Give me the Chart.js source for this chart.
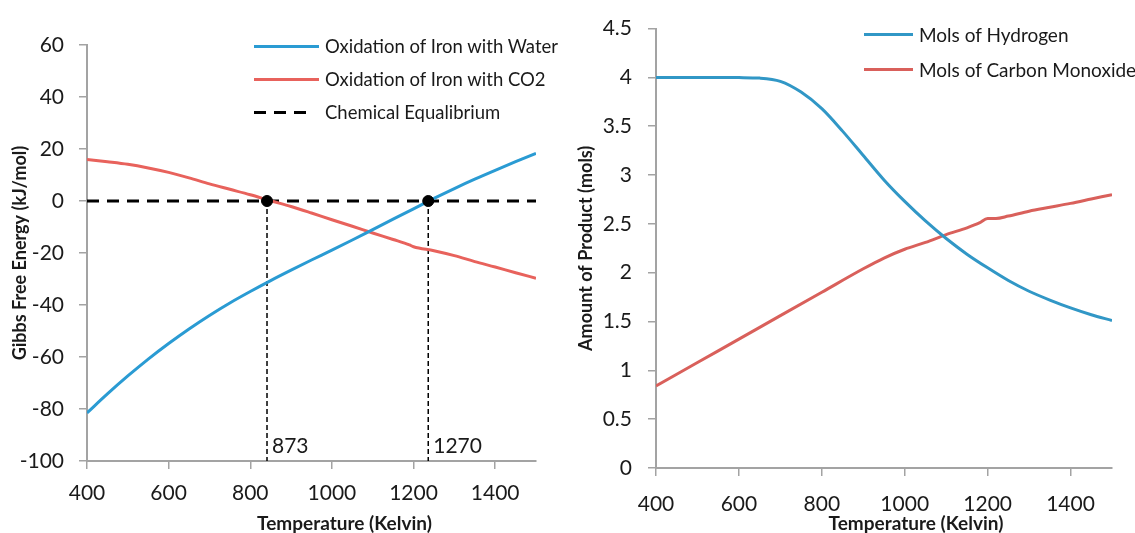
<!DOCTYPE html>
<html>
<head>
<meta charset="utf-8">
<script src="https://cdn.jsdelivr.net/npm/chart.js@4.4.1/dist/chart.umd.min.js"></script>
<style>
  html, body { margin: 0; padding: 0; background: #fff; }
  body { width: 1135px; height: 533px; position: relative; overflow: hidden; font-family: Lato, sans-serif; }
  .panel { position: absolute; top: 0; height: 533px; }
  #leftPanel { left: 0; width: 560px; }
  #rightPanel { left: 560px; width: 575px; }
  .legend { position: absolute; color: #1a1a1a; white-space: nowrap; }
  .legend .row { position: absolute; left: 0; height: 24px; display: flex; align-items: center; }
  .legend .swatch { height: 3px; flex: none; }
</style>
</head>
<body>
<div class="panel" id="leftPanel"><canvas id="gibbs" width="560" height="533"></canvas></div>
<div class="panel" id="rightPanel"><canvas id="mols" width="575" height="533"></canvas></div>
<div class="legend" id="legendLeft" style="left:254px; top:34px; font-size:18.5px;"></div>
<div class="legend" id="legendRight" style="left:864px; top:22px; font-size:19px;"></div>
<script>
// ---- Left chart: Gibbs free energy vs temperature
const waterTemps = [400, 450, 500, 550, 600, 650, 700, 750, 800, 850, 900, 950, 1000,
                    1050, 1100, 1150, 1200, 1250, 1300, 1350, 1400, 1450, 1500];
const gibbsWater = [-81.5, -74.2, -67.3, -60.8, -54.8, -49.2, -44.0, -39.2, -34.8, -30.6, -26.6, -22.7, -18.9,
                    -15.0, -11.0, -7.0, -3.0, 1.0, 4.8, 8.4, 11.8, 15.1, 18.3];
const co2Temps   = [400, 450, 500, 550, 600, 650, 700, 750, 800, 850, 900, 950, 1000,
                    1050, 1100, 1150, 1190, 1200, 1250, 1300, 1350, 1400, 1450, 1500];
const gibbsCO2   = [16.0, 15.1, 14.1, 12.7, 11.0, 8.9, 6.6, 4.5, 2.4, 0.1, -2.1, -4.6, -7.2,
                    -9.7, -12.3, -14.8, -16.9, -17.6, -19.1, -21.0, -23.3, -25.4, -27.6, -29.7];
const eqTemps  = [841, 1236];
const eqLabels = ["873", "1270"];
const gibbsTicks = [-100, -80, -60, -40, -20, 0, 20, 40, 60];

// ---- Right chart: amount of product
const h2Temps = [400, 500, 600, 650, 700, 750, 800, 850, 900, 950, 1000, 1050, 1100,
                 1150, 1200, 1250, 1300, 1350, 1400, 1450, 1500];
const molsH2  = [4.0, 4.0, 3.998, 3.993, 3.96, 3.85, 3.68, 3.45, 3.2, 2.95, 2.73, 2.53, 2.35,
                 2.19, 2.05, 1.92, 1.81, 1.72, 1.64, 1.57, 1.51];
const coTemps = [400, 500, 600, 700, 800, 900, 950, 1000, 1050, 1100, 1150, 1180, 1200, 1220,
                 1250, 1300, 1350, 1400, 1450, 1500];
const molsCO  = [0.84, 1.08, 1.32, 1.56, 1.8, 2.04, 2.15, 2.24, 2.31, 2.39, 2.46, 2.51, 2.555, 2.555,
                 2.58, 2.63, 2.67, 2.71, 2.755, 2.8];
const molTicks = [0, 0.5, 1, 1.5, 2, 2.5, 3, 3.5, 4, 4.5];

const tempTicks = [400, 600, 800, 1000, 1200, 1400];

const BLUE_L = "#2a9bd3", RED_L = "#e8625c";
const BLUE_R = "#3197c6", RED_R = "#d9605b";
const AXIS = "#a3a3a3";
const TICK_FONT = { family: "Lato", size: 21 };
const TITLE_FONT = { family: "Lato", size: 18, weight: "bold" };

function pts(xs, ys) { return xs.map((x, i) => ({ x, y: ys[i] })); }

function axisBase(ticks) {
  return {
    type: "linear",
    afterBuildTicks: s => { s.ticks = ticks.map(v => ({ value: v })); },
    border: { display: true, color: AXIS, width: 2 },
    grid: { drawOnChartArea: false, drawTicks: true, tickLength: 8, color: AXIS, lineWidth: 1.5 },
    ticks: { color: "#1a1a1a", font: TICK_FONT, callback: v => String(v) }
  };
}

// x-axis title sits a little right of the plot centre, like the original
function xTitlePlugin(text, shift) {
  return {
    id: "xTitle",
    afterDraw(chart) {
      const { ctx, chartArea } = chart;
      ctx.save();
      ctx.font = "bold 19px Lato";
      ctx.fillStyle = "#1a1a1a";
      ctx.textAlign = "center";
      ctx.textBaseline = "alphabetic";
      ctx.fillText(text, (chartArea.left + chartArea.right) / 2 + shift, 530);
      ctx.restore();
    }
  };
}

const eqLabelPlugin = {
  id: "eqLabels",
  afterDatasetsDraw(chart) {
    const { ctx, scales } = chart;
    ctx.save();
    ctx.font = "21px Lato";
    ctx.fillStyle = "#1a1a1a";
    ctx.textBaseline = "alphabetic";
    eqTemps.forEach((t, i) => {
      const x = scales.x.getPixelForValue(t);
      const y = scales.y.getPixelForValue(-100);
      ctx.fillText(eqLabels[i], x + 5, y - 8);
    });
    ctx.restore();
  }
};

const lineDs = (label, data, color, order) => ({
  label, data, borderColor: color, borderWidth: 3, showLine: true,
  pointRadius: 0, cubicInterpolationMode: "monotone", order
});

const leftDatasets = [
  { label: "eqPoints", data: eqTemps.map(t => ({ x: t, y: 0 })), showLine: false,
    pointRadius: 5.5, pointBackgroundColor: "#000", pointBorderColor: "#000", order: 0 },
  lineDs("Oxidation of Iron with Water", pts(waterTemps, gibbsWater), BLUE_L, 1),
  lineDs("Oxidation of Iron with CO2", pts(co2Temps, gibbsCO2), RED_L, 2),
  { label: "Chemical Equalibrium", data: [{ x: 400, y: 0 }, { x: 1500, y: 0 }], showLine: true,
    borderColor: "#000", borderWidth: 3, borderDash: [12, 8], pointRadius: 0, order: 3 },
  ...eqTemps.map(t => ({
    label: "eq" + t, data: [{ x: t, y: 0 }, { x: t, y: -100 }], showLine: true,
    borderColor: "#000", borderWidth: 1.5, borderDash: [5, 3], pointRadius: 0, order: 4
  }))
];

const gibbsY = axisBase(gibbsTicks);
gibbsY.min = -100; gibbsY.max = 60;
gibbsY.afterFit = s => { s.width = 87; };
gibbsY.ticks.padding = 15;
gibbsY.title = { display: true, text: "Gibbs Free Energy (kJ/mol)", font: TITLE_FONT, color: "#1a1a1a",
                 padding: { top: 9, bottom: 0 } };
const gibbsX = axisBase(tempTicks);
gibbsX.min = 400; gibbsX.max = 1500;
gibbsX.afterFit = s => { s.height = 72; };
gibbsX.ticks.padding = 12;

new Chart(document.getElementById("gibbs"), {
  type: "scatter",
  data: { datasets: leftDatasets },
  options: {
    responsive: false, animation: false,
    layout: { padding: { left: 0, top: 45, right: 24, bottom: 0 } },
    plugins: { legend: { display: false }, tooltip: { enabled: false } },
    scales: { x: gibbsX, y: gibbsY }
  },
  plugins: [eqLabelPlugin, xTitlePlugin("Temperature (Kelvin)", 33)]
});

const molsY = axisBase(molTicks);
molsY.min = 0; molsY.max = 4.5;
molsY.afterFit = s => { s.width = 96; };
molsY.ticks.padding = 16;
molsY.title = { display: true, text: "Amount of Product (mols)", font: TITLE_FONT, color: "#1a1a1a",
                padding: { top: 15, bottom: 0 } };
const molsX = axisBase(tempTicks);
molsX.min = 400; molsX.max = 1500;
molsX.afterFit = s => { s.height = 65; };
molsX.ticks.padding = 16;

new Chart(document.getElementById("mols"), {
  type: "scatter",
  data: { datasets: [
    lineDs("Mols of Hydrogen", pts(h2Temps, molsH2), BLUE_R, 1),
    lineDs("Mols of Carbon Monoxide", pts(coTemps, molsCO), RED_R, 2)
  ] },
  options: {
    responsive: false, animation: false,
    layout: { padding: { left: 0, top: 22, right: 23, bottom: 0 } },
    plugins: { legend: { display: false }, tooltip: { enabled: false } },
    scales: { x: molsX, y: molsY }
  },
  plugins: [xTitlePlugin("Temperature (Kelvin)", 32)]
});

// ---- HTML legends
function buildLegend(el, items, lineW, rowGap) {
  items.forEach((it, i) => {
    const row = document.createElement("div");
    row.className = "row";
    row.style.top = (i * rowGap) + "px";
    const sw = document.createElement("span");
    sw.className = "swatch";
    sw.style.width = (it.dash ? lineW - 10 : lineW) + "px";
    sw.style.marginRight = (it.dash ? 16 : 6) + "px";
    sw.style.background = it.dash
      ? `repeating-linear-gradient(to right, ${it.color} 0 12px, transparent 12px 20px)`
      : it.color;
    const tx = document.createElement("span");
    tx.textContent = it.label;
    row.appendChild(sw);
    row.appendChild(tx);
    el.appendChild(row);
  });
}
buildLegend(document.getElementById("legendLeft"), [
  { label: "Oxidation of Iron with Water", color: BLUE_L },
  { label: "Oxidation of Iron with CO2", color: RED_L },
  { label: "Chemical Equalibrium", color: "#000", dash: true }
], 65, 33);
buildLegend(document.getElementById("legendRight"), [
  { label: "Mols of Hydrogen", color: BLUE_R },
  { label: "Mols of Carbon Monoxide", color: RED_R }
], 49, 35);
</script>
</body>
</html>
